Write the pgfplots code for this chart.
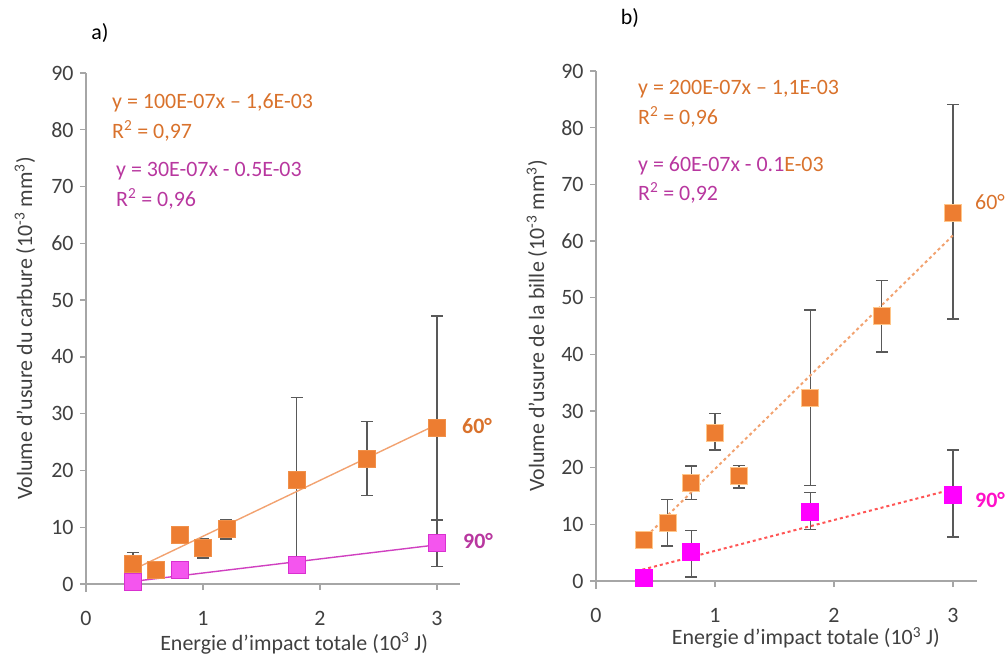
\documentclass[border=0pt]{standalone}
\usepackage{fontspec}
\setmainfont{Carlito}
\usepackage{pgfplots}
\pgfplotsset{compat=1.18}
\definecolor{orM}{HTML}{ED7D31}
\definecolor{orB}{HTML}{F0904A}
\definecolor{orBr}{HTML}{FFC68A}
\definecolor{orL}{HTML}{F2A270}
\definecolor{orT}{HTML}{D9722C}
\definecolor{pkM}{HTML}{F455EE}
\definecolor{pkB}{HTML}{D930D0}
\definecolor{pkL}{HTML}{D040C0}
\definecolor{puT}{HTML}{B8379F}
\definecolor{mgM}{HTML}{FF00FF}
\definecolor{mgT}{HTML}{FF10C8}
\definecolor{rdL}{HTML}{FF5555}
\definecolor{axgray}{HTML}{A6A6A6}
\definecolor{tickgray}{HTML}{404040}
\definecolor{errgray}{HTML}{595959}
\newcommand{\fs}{\fontsize{22}{26}\selectfont}
\pgfplotsset{
  myax/.style={scale only axis, xmin=0, xmax=3.2, ymin=0, ymax=90,
    axis lines=left, axis line style={-, draw=axgray, line width=1.3bp},
    y axis line style={shorten <=-8bp},
    xtick={0,1,2,3}, ytick={0,10,...,90},
    tick align=outside, major tick length=6bp,
    tick style={draw=axgray, line width=1.3bp},
    tick label style={font=\fs, text=tickgray},
    /pgf/number format/assume math mode=true,
    xticklabel style={yshift=-18bp}, yticklabel style={xshift=-3bp},
    label style={font=\fs, text=tickgray},
    clip=false},
  errb/.style={only marks, mark=none, forget plot,
    error bars/.cd, y dir=both, y explicit,
    error bar style={draw=errgray, line width=1.4bp},
    error mark options={draw=errgray, mark size=6bp, line width=1.4bp, rotate=90}},
}
\pgfplotstableread{
x y ep em
0.4 3.6 1.9 1.9
1.0 6.3 1.7 1.7
1.2 9.7 1.6 1.8
1.8 18.4 14.5 14.5
2.4 22.0 6.6 6.4
3.0 27.5 19.7 19.7
}\errAor
\pgfplotstableread{
x y ep em
0.8 2.4 1.4 1.3
3.0 7.2 4.1 4.1
}\errApk
\pgfplotstableread{
x y
0.4 3.6
0.6 2.4
0.8 8.7
1.0 6.3
1.2 9.7
1.8 18.4
2.4 22.0
3.0 27.5
}\datAor
\pgfplotstableread{
x y
0.4 0.3
0.8 2.4
1.8 3.4
3.0 7.2
}\datApk
\pgfplotstableread{
x y ep em
0.6 10.2 4.15 4.0
0.8 17.3 3.0 2.95
1.0 26.1 3.5 3.0
1.2 18.5 1.85 2.1
1.8 32.35 15.45 15.55
2.4 46.7 6.3 6.3
3.0 65.0 19.1 18.8
}\errBor
\pgfplotstableread{
x y ep em
0.8 5.1 3.8 4.4
1.8 12.2 3.4 3.1
3.0 15.2 7.9 7.4
}\errBpk
\pgfplotstableread{
x y
0.4 7.3
0.6 10.2
0.8 17.3
1.0 26.1
1.2 18.5
1.8 32.35
2.4 46.7
3.0 65.0
}\datBor
\pgfplotstableread{
x y
0.4 0.5
0.8 5.1
1.8 12.2
3.0 15.2
}\datBpk
\begin{document}
\begin{tikzpicture}
\useasboundingbox (0bp,0bp) rectangle (1006bp,657bp);
% ---------- a)
\begin{axis}[myax, at={(86bp,73bp)}, anchor=south west, width=374.4bp, height=511bp,
  xlabel={Energie d’impact totale (10\textsuperscript{3} J)},
  xlabel style={at={(axis description cs:0.556,-0.116)}, anchor=center},
  ylabel={Volume d’usure du carbure (10\textsuperscript{-3} mm\textsuperscript{3})},
  ylabel style={at={(axis description cs:-0.163,0.5)}, anchor=center}]
\addplot+[errb] table[x=x, y=y, y error plus=ep, y error minus=em]{\errAor};
\addplot+[errb] table[x=x, y=y, y error plus=ep, y error minus=em]{\errApk};
\addplot[only marks, mark=square*, mark size=8.5bp, mark options={fill=orM, draw=orB, line width=0.8bp}] table[x=x, y=y]{\datAor};
\addplot[only marks, mark=square*, mark size=8.5bp, mark options={fill=pkM, draw=pkB, line width=0.8bp}] table[x=x, y=y]{\datApk};
\addplot[draw=orL, line width=1.4bp, mark=none] coordinates {(0.4,2.5) (3.0,28.1)};
\addplot[draw=pkL, line width=1.4bp, mark=none] coordinates {(0.4,0.45) (3.0,6.9)};
\end{axis}
% ---------- b)
\begin{axis}[myax, at={(596bp,76bp)}, anchor=south west, width=380.8bp, height=510bp,
  xlabel={Energie d’impact totale (10\textsuperscript{3} J)},
  xlabel style={at={(axis description cs:0.551,-0.112)}, anchor=center},
  ylabel={Volume d’usure de la bille (10\textsuperscript{-3} mm\textsuperscript{3})},
  ylabel style={at={(axis description cs:-0.155,0.5)}, anchor=center}]
\addplot+[errb] table[x=x, y=y, y error plus=ep, y error minus=em]{\errBor};
\addplot+[errb] table[x=x, y=y, y error plus=ep, y error minus=em]{\errBpk};
\addplot[only marks, mark=square*, mark size=8.5bp, mark options={fill=orM, draw=orBr, line width=0.8bp}] table[x=x, y=y]{\datBor};
\addplot[only marks, mark=square*, mark size=8.5bp, mark options={fill=mgM, draw=mgM, line width=0.8bp}] table[x=x, y=y]{\datBpk};
\addplot[draw=orL, line width=2bp, dash pattern=on 3bp off 3bp, mark=none] coordinates {(0.39,7.2) (3.0,61.0)};
\addplot[draw=rdL, line width=2bp, dash pattern=on 3bp off 3bp, mark=none] coordinates {(0.39,2.0) (3.0,16.2)};
\end{axis}
% ---------- annotations
\node[anchor=center, font=\fs] at (100bp,624bp) {a)};
\node[anchor=center, font=\fs] at (630bp,639bp) {b)};
\node[anchor=west, font=\fs, text=orT, inner sep=0] at (112bp,554bp) {y = 100E-07x – 1,6E-03};
\node[anchor=west, font=\fs, text=orT, inner sep=0] at (112bp,526bp) {R\textsuperscript{2} = 0,97};
\node[anchor=west, font=\fs, text=puT, inner sep=0] at (116bp,486bp) {y = 30E-07x - 0.5E-03};
\node[anchor=west, font=\fs, text=puT, inner sep=0] at (116bp,458bp) {R\textsuperscript{2} = 0,96};
\node[anchor=west, font=\fs\bfseries, text=orT, inner sep=0] at (462bp,231bp) {60°};
\node[anchor=west, font=\fs\bfseries, text=puT, inner sep=0] at (463bp,116bp) {90°};
\node[anchor=west, font=\fs, text=orT, inner sep=0] at (638bp,568bp) {y = 200E-07x – 1,1E-03};
\node[anchor=west, font=\fs, text=orT, inner sep=0] at (638bp,540bp) {R\textsuperscript{2} = 0,96};
\node[anchor=west, font=\fs, text=puT, inner sep=0] at (638bp,491bp) {y = 60E-07x - 0.1\textcolor{orT}{E-03}};
\node[anchor=west, font=\fs, text=puT, inner sep=0] at (638bp,464bp) {R\textsuperscript{2} = 0,92};
\node[anchor=west, font=\fs, text=orT, inner sep=0] at (975bp,455bp) {60°};
\node[anchor=west, font=\fs\bfseries, text=mgT, inner sep=0] at (975bp,157bp) {90°};
\end{tikzpicture}
\end{document}
